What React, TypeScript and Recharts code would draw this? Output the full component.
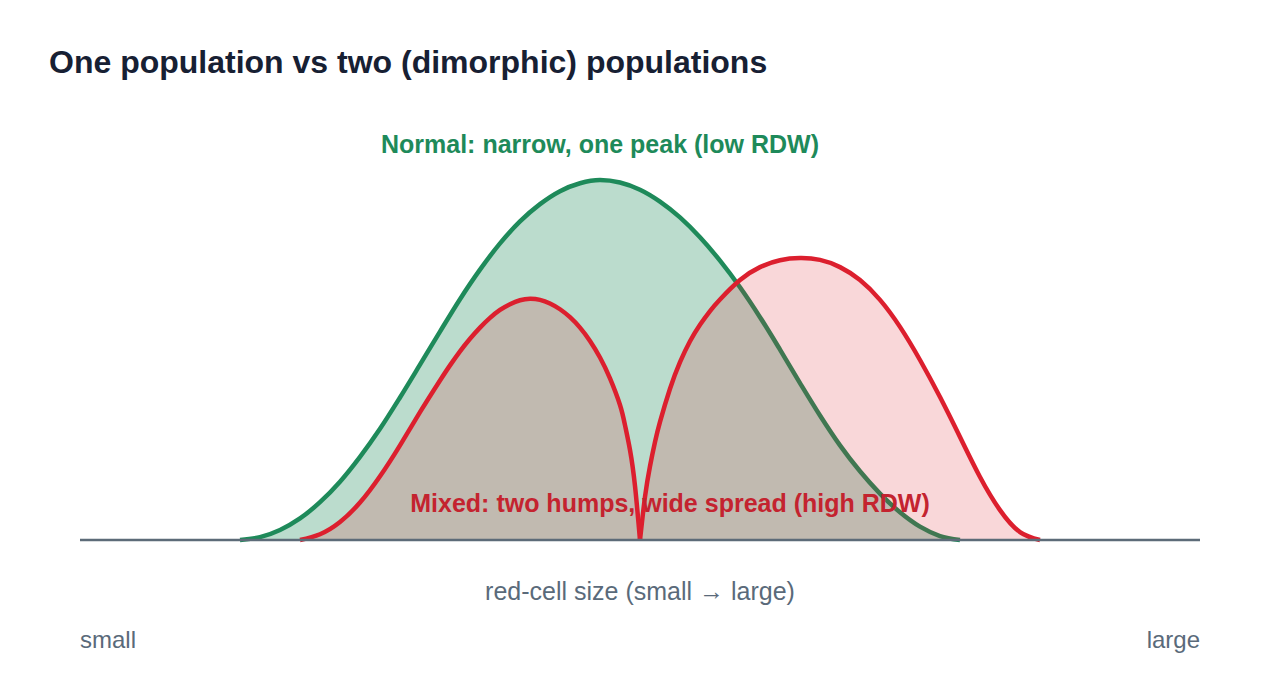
import React from "react";
import { ComposedChart, Area, XAxis, YAxis, ReferenceLine } from "recharts";

// Cell-size axis (arbitrary units, small → large) and relative cell counts.
const normalSize = [
  8, 9, 10, 11, 12, 13, 14, 15, 16, 17, 18, 19, 20, 21, 22, 23, 24, 25, 26,
  27, 28, 29, 30, 31, 32, 33, 34, 35, 36, 37, 38, 39, 40, 41, 42, 43, 44,
];
const normalCount = [
  0, 0.8, 2.8, 6.0, 10.5, 16.2, 23.1, 30.9, 39.6, 48.7, 57.9, 66.9, 75.1, 82.4, 88.5, 93.3, 96.9, 99.1, 100,
  99.3, 97.3, 94.0, 89.6, 84.1, 77.6, 70.2, 61.9, 52.9, 43.6, 34.6, 26.3, 19.1, 12.9, 7.7, 3.7, 1.1, 0,
];

// Mixed sample: small-cell hump and large-cell hump meeting at the trough.
const smallHumpSize = [
  11, 12, 13, 14, 15, 16, 17, 18, 18.5, 19, 19.5, 20, 20.5, 21, 21.5, 22, 22.5, 23, 23.5, 24, 24.5, 25, 25.5, 26, 26.5, 27,
  27.25, 27.5, 27.75, 28,
];
const smallHumpCount = [
  0, 1.6, 5.0, 10.4, 17.7, 26.3, 35.5, 44.3, 48.5, 52.4, 55.9, 59.0, 61.7, 63.9, 65.5, 66.6, 67.0, 66.7, 65.7, 64.1, 61.9, 59.0, 55.3, 50.7, 44.9, 37.5,
  31.9, 25.0, 15.0, 0,
];
const largeHumpSize = [
  28, 28.25, 28.5, 28.75, 29, 29.5, 30, 30.5, 31, 31.5, 32, 33, 34, 35, 36, 37, 38, 39, 40, 41, 42, 43, 44, 45, 46, 47, 48,
];
const largeHumpCount = [
  0, 12.0, 20.5, 27.2, 32.8, 42.0, 49.4, 55.2, 59.8, 63.6, 66.8, 72.2, 75.8, 77.7, 78.3, 77.8, 75.8, 72.2, 66.7, 59.2, 50.0, 39.7, 28.6, 17.5, 8.3, 2.2, 0,
];

const TITLE = "One population vs two (dimorphic) populations";
const NORMAL_LABEL = "Normal: narrow, one peak (low RDW)";
const MIXED_LABEL = "Mixed: two humps, wide spread (high RDW)";
const AXIS_LABEL = "red-cell size (small \u2192 large)";
const AXIS_MIN_LABEL = "small";
const AXIS_MAX_LABEL = "large";

const GREEN = "#1e8a5a";
const RED = "#dc1f2e";
const FONT = "'Liberation Sans', Arial, Helvetica, sans-serif";

type Row = { size: number; normal?: number; small?: number; large?: number };

function buildRows(): Row[] {
  const map = new Map<number, Row>();
  const put = (sizes: number[], counts: number[], key: "normal" | "small" | "large") => {
    sizes.forEach((s, i) => {
      const r = map.get(s) ?? { size: s };
      r[key] = counts[i];
      map.set(s, r);
    });
  };
  put(normalSize, normalCount, "normal");
  put(smallHumpSize, smallHumpCount, "small");
  put(largeHumpSize, largeHumpCount, "large");
  return Array.from(map.values()).sort((a, b) => a.size - b.size);
}

const rows = buildRows();

const mixedStyle = {
  stroke: RED,
  strokeWidth: 4.5,
  strokeLinejoin: "round" as const,
  fill: RED,
  fillOpacity: 0.18,
  connectNulls: true,
  dot: false,
  activeDot: false,
  isAnimationActive: false,
};

export default function App() {
  return (
    <div
      style={{
        position: "absolute",
        left: 0,
        top: 0,
        width: 1280,
        height: 680,
        background: "#ffffff",
        fontFamily: FONT,
      }}
    >
      <ComposedChart
        width={1280}
        height={680}
        data={rows}
        margin={{ top: 180, right: 80, bottom: 140, left: 80 }}
      >
        <XAxis type="number" dataKey="size" domain={[0, 56]} hide />
        <YAxis type="number" domain={[0, 100]} hide />
        <ReferenceLine y={0} stroke="#5d6b78" strokeWidth={2.5} />
        <Area
          type="monotone"
          dataKey="normal"
          stroke={GREEN}
          strokeWidth={4.5}
          strokeLinejoin="round"
          fill={GREEN}
          fillOpacity={0.3}
          connectNulls
          dot={false}
          activeDot={false}
          isAnimationActive={false}
        />
        <Area type="natural" dataKey="small" {...mixedStyle} />
        <Area type="natural" dataKey="large" {...mixedStyle} />
      </ComposedChart>
      <svg
        width={1280}
        height={680}
        style={{ position: "absolute", left: 0, top: 0, pointerEvents: "none" }}
      >
        <text x={49} y={73} fontSize={32} fontWeight={700} fill="#172033" fontFamily={FONT}>
          {TITLE}
        </text>
        <text x={600} y={153} fontSize={25} fontWeight={700} fill={GREEN} textAnchor="middle" fontFamily={FONT}>
          {NORMAL_LABEL}
        </text>
        <text x={670} y={512} fontSize={25} fontWeight={700} fill="#c4232f" textAnchor="middle" fontFamily={FONT}>
          {MIXED_LABEL}
        </text>
        <text x={640} y={600} fontSize={25} fill="#5a6a7a" textAnchor="middle" fontFamily={FONT}>
          {AXIS_LABEL}
        </text>
        <text x={80} y={648} fontSize={24} fill="#5a6a7a" fontFamily={FONT}>
          {AXIS_MIN_LABEL}
        </text>
        <text x={1200} y={648} fontSize={24} fill="#5a6a7a" textAnchor="end" fontFamily={FONT}>
          {AXIS_MAX_LABEL}
        </text>
      </svg>
    </div>
  );
}
